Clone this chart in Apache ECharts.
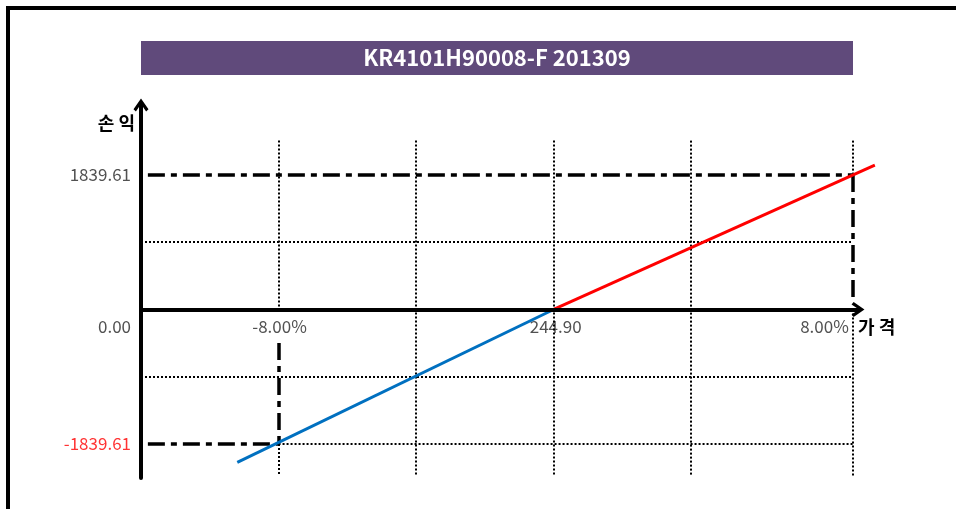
<!DOCTYPE html>
<html><head><meta charset="utf-8">
<script src="https://cdn.jsdelivr.net/npm/echarts@6/dist/echarts.min.js"></script>
<style>html,body{margin:0;padding:0;background:#fff}#c{width:956px;height:509px}</style>
</head><body><div id="c"></div>
<script>
// ---- text ----
const titleText = 'KR4101H90008-F 201309';
const yAxisName = '손 익';
const xAxisName = '가 격';
// ---- payoff segments (x in chart price units, 0 = 244.90; y = profit/loss) ----
const lossLine = [[-9.2, -2090], [0, 0]];
const profitLine = [[0, 0], [9.34, 1975]];
// ---- tick labels ----
const yTickLabels = ['1839.61', '0.00', '-1839.61'];
const yTickValues = [1839.61, 0, -1839.61];
const xTickLabels = ['-8.00%', '244.90', '8.00%'];
const xTickValues = [-8, 0, 8.7];
// ---- axis ranges ----
const xRange = [-12, 8.85];
const yRange = [-2305, 2797];
// ---- dotted grid segments [x1,y1,x2,y2] ----
const gridSegments = [
  [-8, 2310, -8, 0], [-8, -1839.61, -8, -2277],
  [-4, 2310, -4, -2277], [0, 2310, 0, -2277], [4, 2310, 4, -2277],
  [8.7, 2310, 8.7, 1839.61], [8.7, 0, 8.7, -2277],
  [-12, 919.8, 8.7, 919.8], [-12, -919.8, 8.7, -919.8],
  [-8, -1839.61, 8.7, -1839.61]
];
// ---- dash-dot guide segments ----
const guideSegments = [
  [-11.8, 1839.61, 8.7, 1839.61],
  [8.7, 1839.61, 8.7, 171],
  [-11.8, -1839.61, -8, -1839.61],
  [-8, -458, -8, -1839.61]
];

const FONT = '"Noto Sans CJK KR", "Noto Sans", sans-serif';
const chart = echarts.init(document.getElementById('c'));
const chevron = 'path://M50,0 L100,72 L84,86 L50,36 L16,86 L0,72 Z';

// main grid box
const G = {left: 141, right: 98, top: 105, bottom: 31};
// wider twin grid (same scale) so the payoff line may run past the axis arrow
const W = 956;
const pxPerUnit = (W - G.left - G.right) / (xRange[1] - xRange[0]);
const G2right = 40;
const x2Max = xRange[0] + (W - G.left - G2right) / pxPerUnit;

function seg(s, style) {
  return [{coord: [s[0], s[1]], lineStyle: style}, {coord: [s[2], s[3]]}];
}
const dotted = {color: '#000', width: 2, type: [2, 2]};
const dashDot = {color: '#000', width: 3.5, type: [17, 6, 6, 6]};

const yLabelData = yTickValues.map((v, i) => ({
  value: [xRange[0], v],
  label: {
    show: true, position: 'left', distance: 10, formatter: yTickLabels[i],
    color: v < 0 ? '#FF0000' : '#262626', fontSize: 17, fontFamily: FONT,
    offset: v === 0 ? [0, 17] : [0, 0]
  }
}));
const xLabelData = xTickValues.map((v, i) => ({
  value: [v, 0],
  label: {
    show: true, position: 'bottom', distance: 5, formatter: xTickLabels[i],
    color: '#262626', fontSize: 17, fontFamily: FONT,
    backgroundColor: '#fff', padding: [2, 2], lineHeight: 20,
    align: i === xTickValues.length - 1 ? 'right' : 'center',
    offset: i === xTickValues.length - 1 ? [-2, 0] : (v === 0 ? [2, 0] : [1, 0])
  }
}));

chart.setOption({
  animation: false,
  backgroundColor: '#fff',
  grid: [
    Object.assign({containLabel: false}, G),
    {left: G.left, right: G2right, top: G.top, bottom: G.bottom, containLabel: false}
  ],
  xAxis: [{
    type: 'value', min: xRange[0], max: xRange[1], z: 10, gridIndex: 0,
    axisLine: {show: true, onZero: true, symbol: ['none', chevron], symbolSize: [15, 18],
      lineStyle: {color: '#000', width: 4}},
    axisTick: {show: false}, axisLabel: {show: false}, splitLine: {show: false},
    name: xAxisName, nameLocation: 'end', nameGap: 0,
    nameTextStyle: {fontFamily: FONT, fontSize: 18, fontWeight: 'bold', color: '#000',
      align: 'left', verticalAlign: 'top', lineHeight: 36}
  }, {
    type: 'value', min: xRange[0], max: x2Max, gridIndex: 1, show: false
  }],
  yAxis: [{
    type: 'value', min: yRange[0], max: yRange[1], z: 10, gridIndex: 0,
    axisLine: {show: true, onZero: false, symbol: ['none', chevron], symbolSize: [15, 18],
      lineStyle: {color: '#000', width: 4}},
    axisTick: {show: false}, axisLabel: {show: false}, splitLine: {show: false},
    name: yAxisName, nameLocation: 'end', nameGap: -18,
    nameTextStyle: {fontFamily: FONT, fontSize: 18, fontWeight: 'bold', color: '#000',
      align: 'right', verticalAlign: 'middle', padding: [0, 6, 0, 0]}
  }, {
    type: 'value', min: yRange[0], max: yRange[1], gridIndex: 1, show: false
  }],
  graphic: [
    {type: 'polyline', shape: {points: [[8, 509], [8, 8], [956, 8]]},
      style: {stroke: '#000', lineWidth: 4, fill: null, lineJoin: 'miter'}, silent: true},
    {type: 'rect', shape: {x: 141, y: 41, width: 712, height: 34}, style: {fill: '#604A7B'},
      textContent: {style: {text: titleText, fill: '#fff', font: 'bold 22px ' + FONT}},
      textConfig: {position: 'inside'}, silent: true}
  ],
  series: [
    {type: 'line', data: [], z: 1, silent: true, xAxisIndex: 0, yAxisIndex: 0,
      markLine: {symbol: ['none', 'none'], silent: true, label: {show: false},
        data: gridSegments.map(s => seg(s, dotted))}},
    {type: 'line', data: [], z: 2, silent: true, xAxisIndex: 0, yAxisIndex: 0,
      markLine: {symbol: ['none', 'none'], silent: true, label: {show: false},
        data: guideSegments.map(s => seg(s, dashDot))}},
    {type: 'scatter', data: yLabelData.concat(xLabelData), symbolSize: 0, z: 3, silent: true,
      xAxisIndex: 0, yAxisIndex: 0},
    {type: 'line', data: lossLine, z: 5, symbol: 'none', silent: true,
      xAxisIndex: 1, yAxisIndex: 1, lineStyle: {color: '#0070C0', width: 3}},
    {type: 'line', data: profitLine, z: 5, symbol: 'none', silent: true,
      xAxisIndex: 1, yAxisIndex: 1, lineStyle: {color: '#FF0000', width: 3}}
  ]
});
</script></body></html>
